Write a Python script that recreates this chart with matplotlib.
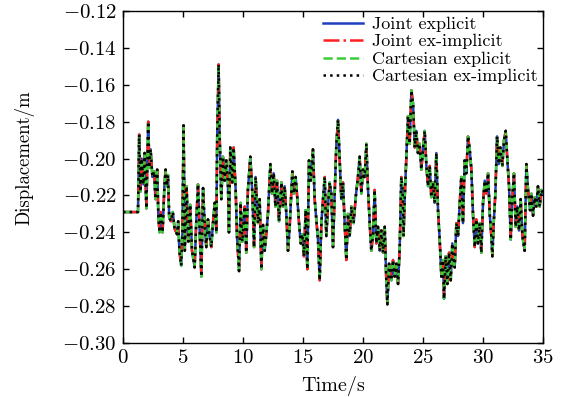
import matplotlib
matplotlib.use("Agg")
import matplotlib.pyplot as plt

plt.rcParams['font.family'] = 'serif'
plt.rcParams['font.serif'] = ['cmr10', 'DejaVu Serif']
plt.rcParams['mathtext.fontset'] = 'cm'
plt.rcParams['axes.formatter.use_mathtext'] = True

time_s = [0, 1.25, 1.35, 1.45, 1.55, 1.7, 1.8, 1.95, 2.1, 2.2, 2.3, 2.45, 2.6, 2.7, 2.85, 2.95,
          3.05, 3.15, 3.3, 3.45, 3.55, 3.65, 3.75, 3.85, 4.0, 4.15, 4.3, 4.5, 4.6, 4.7, 4.85, 4.95,
          5.05, 5.15, 5.3, 5.45, 5.6, 5.75, 5.97, 6.1, 6.25, 6.4, 6.53, 6.67, 6.8, 6.94, 7.08, 7.22,
          7.36, 7.5, 7.64, 7.78, 7.85, 7.97, 8.05, 8.19, 8.33, 8.47, 8.61, 8.75, 8.83, 8.94, 9.11,
          9.22, 9.39, 9.5, 9.67, 9.8, 9.94, 10.14, 10.27, 10.41, 10.61, 10.78, 10.92, 11.05, 11.25,
          11.39, 11.53, 11.67, 11.81, 11.94, 12.08, 12.28, 12.42, 12.56, 12.7, 12.83, 13.0, 13.2,
          13.33, 13.47, 13.61, 13.75, 13.89, 14.11, 14.25, 14.39, 14.53, 14.67, 14.81, 14.94, 15.08,
          15.22, 15.36, 15.5, 15.64, 15.83, 15.97, 16.11, 16.25, 16.39, 16.53, 16.67, 16.81, 16.94,
          17.08, 17.22, 17.36, 17.5, 17.64, 17.78, 17.92, 18.06, 18.19, 18.33, 18.47, 18.61, 18.75,
          18.89, 19.03, 19.22, 19.39, 19.58, 19.72, 19.86, 20.0, 20.14, 20.28, 20.42, 20.56, 20.69,
          20.83, 20.97, 21.11, 21.25, 21.39, 21.53, 21.67, 21.81, 21.94, 22.03, 22.17, 22.36, 22.5,
          22.64, 22.78, 22.92, 23.06, 23.19, 23.3, 23.38, 23.47, 23.61, 23.75, 23.89, 24.03, 24.17,
          24.31, 24.44, 24.58, 24.72, 24.86, 25.0, 25.14, 25.28, 25.42, 25.56, 25.69, 25.83, 25.97,
          26.11, 26.25, 26.39, 26.53, 26.67, 26.75, 26.89, 27.03, 27.17, 27.31, 27.44, 27.64, 27.78,
          27.92, 28.06, 28.19, 28.33, 28.47, 28.61, 28.75, 28.89, 29.03, 29.17, 29.31, 29.44, 29.58,
          29.72, 29.86, 30.0, 30.14, 30.28, 30.42, 30.56, 30.69, 30.78, 30.89, 31.03, 31.17, 31.31,
          31.44, 31.61, 31.75, 31.89, 32.03, 32.17, 32.31, 32.44, 32.58, 32.72, 32.86, 33.0, 33.14,
          33.28, 33.47, 33.61, 33.75, 33.92, 34.03, 34.17, 34.31, 34.44, 34.58, 34.72, 34.86, 35.0]

displacement_m = [-0.229, -0.229, -0.187, -0.218, -0.200, -0.214, -0.197, -0.227, -0.180, -0.205,
                  -0.195, -0.210, -0.207, -0.222, -0.206, -0.232, -0.240, -0.229, -0.240, -0.215,
                  -0.206, -0.215, -0.209, -0.232, -0.234, -0.229, -0.238, -0.241, -0.234, -0.250,
                  -0.258, -0.240, -0.182, -0.250, -0.215, -0.245, -0.225, -0.250, -0.259, -0.235,
                  -0.214, -0.240, -0.264, -0.216, -0.235, -0.248, -0.233, -0.242, -0.248, -0.235,
                  -0.224, -0.240, -0.188, -0.149, -0.186, -0.222, -0.199, -0.212, -0.201, -0.215,
                  -0.240, -0.194, -0.213, -0.194, -0.217, -0.242, -0.261, -0.224, -0.245, -0.226,
                  -0.251, -0.217, -0.199, -0.219, -0.248, -0.210, -0.235, -0.222, -0.260, -0.236,
                  -0.250, -0.241, -0.230, -0.203, -0.219, -0.208, -0.226, -0.212, -0.234, -0.213,
                  -0.226, -0.215, -0.230, -0.250, -0.237, -0.207, -0.219, -0.210, -0.222, -0.235,
                  -0.246, -0.241, -0.253, -0.228, -0.260, -0.201, -0.212, -0.195, -0.222, -0.233,
                  -0.244, -0.266, -0.235, -0.222, -0.210, -0.242, -0.226, -0.213, -0.219, -0.248,
                  -0.219, -0.192, -0.179, -0.201, -0.222, -0.213, -0.235, -0.255, -0.230, -0.242,
                  -0.226, -0.235, -0.221, -0.210, -0.199, -0.219, -0.206, -0.210, -0.192, -0.217,
                  -0.235, -0.250, -0.242, -0.217, -0.246, -0.237, -0.250, -0.239, -0.251, -0.237,
                  -0.266, -0.279, -0.257, -0.266, -0.255, -0.264, -0.257, -0.268, -0.248, -0.210,
                  -0.217, -0.242, -0.222, -0.199, -0.177, -0.192, -0.163, -0.170, -0.194, -0.185,
                  -0.197, -0.192, -0.206, -0.195, -0.185, -0.204, -0.215, -0.204, -0.221, -0.213,
                  -0.224, -0.197, -0.228, -0.244, -0.264, -0.255, -0.276, -0.253, -0.268, -0.251,
                  -0.266, -0.246, -0.259, -0.235, -0.242, -0.224, -0.210, -0.235, -0.201, -0.208,
                  -0.188, -0.195, -0.206, -0.231, -0.248, -0.233, -0.246, -0.235, -0.251, -0.224,
                  -0.212, -0.219, -0.208, -0.230, -0.242, -0.253, -0.235, -0.219, -0.188, -0.203,
                  -0.194, -0.204, -0.190, -0.185, -0.201, -0.215, -0.244, -0.221, -0.208, -0.237,
                  -0.226, -0.239, -0.222, -0.242, -0.250, -0.203, -0.217, -0.228, -0.219, -0.231,
                  -0.221, -0.226, -0.215, -0.226, -0.217, -0.219]

series_labels = ["Joint explicit", "Joint ex-implicit", "Cartesian explicit", "Cartesian ex-implicit"]
series_colors = ["#1f3fbf", "#ff2020", "#3ccc3c", "#000000"]
series_styles = ["-", "-.", "--", ":"]

x_ticks = [0, 5, 10, 15, 20, 25, 30, 35]
y_ticks = [-0.30, -0.28, -0.26, -0.24, -0.22, -0.20, -0.18, -0.16, -0.14, -0.12]

fig = plt.figure(figsize=(5.66, 3.97), dpi=100)
ax = fig.add_axes([0.2173, 0.136, 0.7421, 0.8363])

for lab, col, ls in zip(series_labels, series_colors, series_styles):
    ax.plot(time_s, displacement_m, color=col, linestyle=ls, linewidth=1.8, label=lab)

ax.set_xlim(0, 35)
ax.set_ylim(-0.30, -0.12)
ax.set_xticks(x_ticks)
ax.set_yticks(y_ticks)
ax.tick_params(direction='in', length=4.5, width=1, top=True, right=True, labelsize=15, pad=4.5)
for sp in ax.spines.values():
    sp.set_linewidth(1.0)
ax.set_xlabel("Time/s", fontsize=14.5, labelpad=6)
ax.set_ylabel("Displacement/m", fontsize=13.5)
ax.yaxis.set_label_coords(-0.21, 0.557)

ax.legend(loc='upper right', frameon=False, fontsize=13, handlelength=2.2, labelspacing=0.1,
          handletextpad=0.5, borderaxespad=0.15, borderpad=0.15)

fig.savefig("out.png", dpi=100)
